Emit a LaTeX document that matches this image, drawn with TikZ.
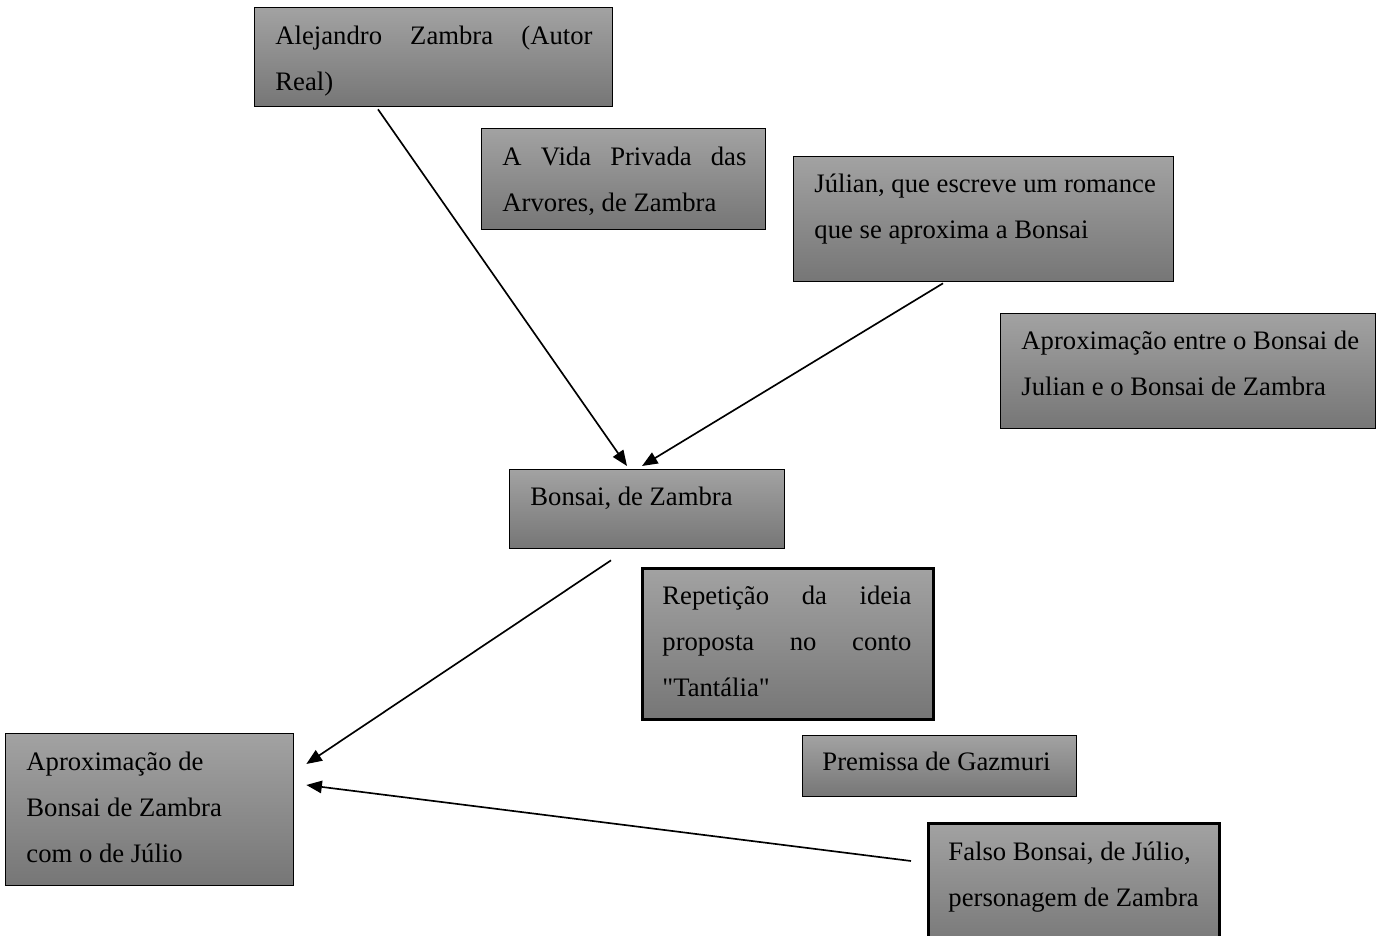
\documentclass[tikz,border=0pt]{standalone}
\usepackage{fontspec}
\setmainfont{Liberation Serif}
\usetikzlibrary{arrows.meta}
\definecolor{gtop}{RGB}{162,162,162}
\definecolor{gbot}{RGB}{118,118,118}
\newcommand\wsp{\spaceskip=3pt plus 2pt minus 1pt\relax\xspaceskip=3pt plus 2pt\relax}
\newcommand\jline[2]{\leavevmode\hbox to #1{#2}}
\tikzset{
  box/.style={draw=black, line width=0.6pt, top color=gtop, bottom color=gbot, anchor=north west, inner sep=0pt},
  thickbox/.style={box, line width=1.3pt},
  txt/.style={anchor=base west, inner sep=0pt, text width=170pt, font=\fontsize{12}{20.7}\selectfont},
  arr/.style={line width=0.75pt, -{Triangle[length=7pt,width=5.6pt]}}
}
\begin{document}
\begin{tikzpicture}[x=0.45pt, y=-0.45pt]
\useasboundingbox (0,0) rectangle (1384,936);
% boxes
\node[box, minimum width=161.1pt, minimum height=44.55pt] (alej) at (254,7) {};
\node[box, minimum width=127.8pt, minimum height=45.45pt] (vida) at (481,128) {};
\node[box, minimum width=171pt, minimum height=56.25pt] (julian) at (793,156) {};
\node[box, minimum width=168.75pt, minimum height=51.75pt] (aproxa) at (1000,313) {};
\node[box, minimum width=123.75pt, minimum height=35.55pt] (bonsai) at (509,469) {};
\node[thickbox, minimum width=130.95pt, minimum height=67.95pt] (rep) at (641,567) {};
\node[box, minimum width=123.3pt, minimum height=27.45pt] (prem) at (802,735) {};
\node[box, minimum width=129.6pt, minimum height=68.4pt] (aproxb) at (5,733) {};
\node[thickbox, minimum width=130.95pt, minimum height=58pt] (falso) at (927,822) {};
% texts
\node[txt] (talej) at (275,45) {\wsp\jline{142.65pt}{Alejandro\hfill Zambra\hfill (Autor}\\Real)};
\node[txt] (tvida) at (502,166) {\wsp\jline{109.8pt}{A\hfill Vida\hfill Privada\hfill das}\\Arvores, de Zambra};
\node[txt] (tjulian) at (814,193) {\wsp Júlian, que escreve um romance\\que se aproxima a Bonsai};
\node[txt] (taproxa) at (1021,350) {\wsp Aproximação entre o Bonsai de\\Julian e o Bonsai de Zambra};
\node[txt] (tbonsai) at (530,506) {\wsp Bonsai, de Zambra};
\node[txt] (trep) at (662,605) {\wsp\jline{112.05pt}{Repetição\hfill da\hfill ideia}\\\jline{112.05pt}{proposta\hfill no\hfill conto}\\\textquotedbl Tantália\textquotedbl};
\node[txt] (tprem) at (822,770) {\wsp Premissa de Gazmuri};
\node[txt] (taproxb) at (26,770) {\wsp Aproximação de\\Bonsai de Zambra\\com o de Júlio};
\node[txt] (tfalso) at (948,860) {\wsp Falso Bonsai, de Júlio,\\personagem de Zambra};
% arrows
\draw[arr] ([shift={(124,2)}]alej.south west) -- ([shift={(118,-3)}]bonsai.north west);
\draw[arr] ([shift={(150,1)}]julian.south west) -- ([shift={(133,-3)}]bonsai.north west);
\draw[arr] ([shift={(102,11)}]bonsai.south west) -- ([shift={(12,31)}]aproxb.north east);
\draw[arr] ([shift={(-16,39)}]falso.north west) -- ([shift={(12,52)}]aproxb.north east);
\end{tikzpicture}
\end{document}
